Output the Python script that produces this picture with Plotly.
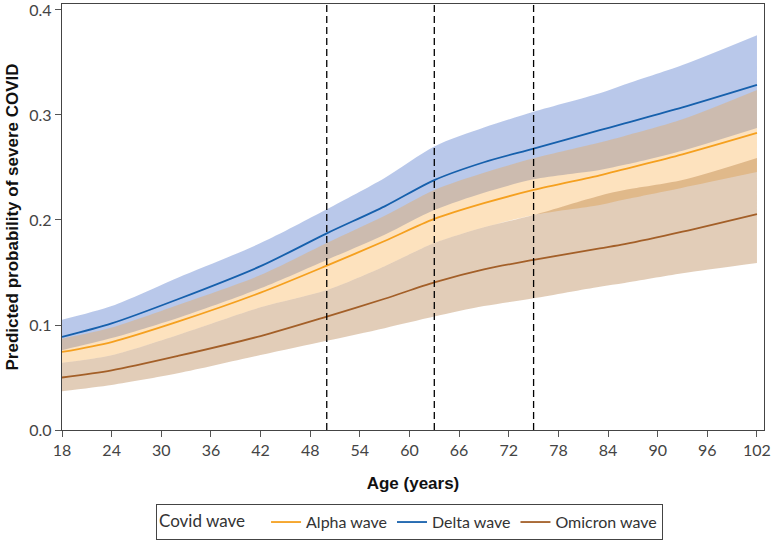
import plotly.graph_objects as go

ages = [18, 24, 32, 42, 50, 57, 63, 69, 75, 83, 86, 93, 102]

delta_mid = [0.0886, 0.1015, 0.1245, 0.156, 0.1873, 0.213, 0.238, 0.255, 0.268, 0.2855, 0.292, 0.3072, 0.3286]
delta_hi  = [0.105, 0.118, 0.145, 0.178, 0.2102, 0.240, 0.270, 0.288, 0.303, 0.3206, 0.329, 0.3476, 0.376]
delta_lo  = [0.076, 0.0875, 0.1067, 0.135, 0.162, 0.186, 0.2095, 0.226, 0.2387, 0.2476, 0.2525, 0.266, 0.2876]

alpha_mid = [0.0743, 0.0838, 0.1032, 0.1308, 0.1565, 0.180, 0.201, 0.216, 0.2286, 0.2425, 0.2485, 0.2625, 0.2829]
alpha_hi  = [0.087, 0.0975, 0.119, 0.1476, 0.178, 0.204, 0.2286, 0.245, 0.2587, 0.2737, 0.280, 0.2959, 0.3238]
alpha_lo  = [0.064, 0.0712, 0.0905, 0.1168, 0.1333, 0.156, 0.178, 0.193, 0.2048, 0.2143, 0.2195, 0.2308, 0.2457]

omicron_mid = [0.050, 0.0568, 0.0705, 0.0895, 0.108, 0.125, 0.1406, 0.153, 0.162, 0.173, 0.177, 0.1889, 0.2057]
omicron_hi  = [0.064, 0.0712, 0.0905, 0.1168, 0.1333, 0.156, 0.178, 0.193, 0.2048, 0.2232, 0.2285, 0.238, 0.259]
omicron_lo  = [0.037, 0.0429, 0.054, 0.0714, 0.085, 0.097, 0.108, 0.118, 0.1254, 0.1365, 0.140, 0.1492, 0.159]

wave_names = ["Alpha wave", "Delta wave", "Omicron wave"]
cutoffs = [50, 63, 75]
x_ticks = [18, 24, 30, 36, 42, 48, 54, 60, 66, 72, 78, 84, 90, 96, 102]
y_ticks = [0.0, 0.1, 0.2, 0.3, 0.4]

line_cols = {"Alpha wave": "#f5a01f", "Delta wave": "#1660ac", "Omicron wave": "#a35f28"}
band_cols = {"Alpha wave": "rgba(250,160,40,0.30)",
             "Delta wave": "rgba(70,110,200,0.38)",
             "Omicron wave": "rgba(160,90,20,0.30)"}

series = {
    "Delta wave": (delta_lo, delta_mid, delta_hi),
    "Alpha wave": (alpha_lo, alpha_mid, alpha_hi),
    "Omicron wave": (omicron_lo, omicron_mid, omicron_hi),
}

fig = go.Figure()

for name in ["Delta wave", "Alpha wave", "Omicron wave"]:
    lo, mid, hi = series[name]
    fig.add_trace(go.Scatter(x=ages, y=lo, mode="lines", line=dict(width=0, shape="spline", smoothing=0.8),
                             showlegend=False, hoverinfo="skip"))
    fig.add_trace(go.Scatter(x=ages, y=hi, mode="lines", line=dict(width=0, shape="spline", smoothing=0.8),
                             fill="tonexty", fillcolor=band_cols[name], showlegend=False, hoverinfo="skip"))

for name in wave_names:
    lo, mid, hi = series[name]
    fig.add_trace(go.Scatter(x=ages, y=mid, mode="lines", name=name,
                             line=dict(color=line_cols[name], width=1.8, shape="spline", smoothing=0.8)))

for c in cutoffs:
    fig.add_vline(x=c, line=dict(color="black", width=1.3, dash="7px,4px"))

tick_font = dict(family="Lato", size=16, color="#444")
title_font = dict(family="Liberation Sans", size=17, color="#111")

fig.update_layout(
    width=771, height=540,
    margin=dict(l=62, r=7, t=4, b=110, autoexpand=False),
    plot_bgcolor="white", paper_bgcolor="white",
    xaxis=dict(range=[18, 102.85], tickvals=x_ticks, ticks="outside", ticklen=6, tickcolor="#555",
               tickwidth=1.3, showline=True, linecolor="#444", linewidth=1.3, mirror=True,
               showgrid=False, zeroline=False, tickfont=tick_font, automargin=False,
               ticklabeloverflow="allow",
               title=dict(text="<b>Age (years)</b>", font=title_font, standoff=18)),
    yaxis=dict(range=[0, 0.4057], tickvals=y_ticks, tickformat=".1f", ticks="outside", ticklen=6,
               tickcolor="#555", tickwidth=1.3, showline=True, linecolor="#444", linewidth=1.3, mirror=True,
               showgrid=False, zeroline=False, tickfont=tick_font, automargin=False,
               ticklabeloverflow="allow",
               title=dict(text="<b>Predicted probability of severe COVID</b>", font=title_font, standoff=6)),
    legend=dict(orientation="h", x=0.495, xanchor="center", y=-0.174, yanchor="top",
                traceorder="normal",
                bordercolor="#444", borderwidth=1, bgcolor="white",
                font=dict(family="Lato", size=16, color="#333"), itemwidth=30,
                title=dict(text="Covid wave   ", side="left", font=dict(family="Lato", size=17, color="#333"))),
)

fig.write_html("out.html")
